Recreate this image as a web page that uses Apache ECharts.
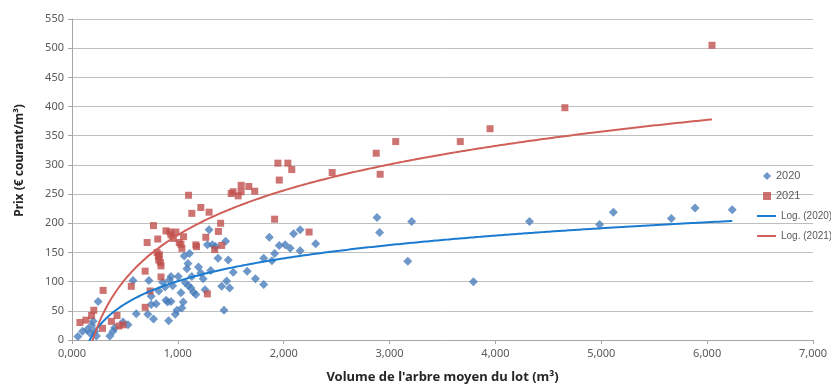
<!DOCTYPE html>
<html><head><meta charset="utf-8">
<script src="https://cdn.jsdelivr.net/npm/echarts@6/dist/echarts.min.js"></script>
<style>html,body{margin:0;padding:0;background:#fff}#c{width:831px;height:385px}</style>
</head><body><div id="c"></div>
<script>
const x2020 = [56,100,144,169,185,200,216,231,247,357,388,404,482,529,576,607,716,726,748,748,770,795,820,857,879,888,904,913,920,935,935,951,976,992,1004,1029,1038,1051,1060,1070,1085,1095,1101,1110,1123,1132,1148,1170,1195,1217,1239,1257,1279,1295,1311,1326,1357,1379,1414,1436,1451,1461,1476,1489,1523,1655,1733,1811,1811,1864,1889,1914,1958,2014,2061,2093,2155,2155,2302,2881,2906,3172,3209,3792,4322,4984,5114,5662,5886,6237];
const y2020 = [6,15,18,12,25,32,15,7,66,7,15,21,31,26,102,45,44,102,75,61,36,62,84,99,91,68,65,33,103,109,66,93,44,51,109,81,55,65,144,98,122,131,93,148,89,109,82,78,125,115,105,86,163,189,119,163,160,140,92,51,169,101,137,89,116,118,105,95,140,176,136,148,162,163,157,182,189,153,165,210,184,135,203,100,203,198,219,208,226,223];
const x2021 = [75,131,185,206,288,294,372,425,444,482,560,691,691,710,738,770,810,804,816,820,826,835,841,841,888,926,935,957,982,1013,1029,1038,1054,1101,1132,1170,1176,1217,1264,1279,1295,1348,1383,1404,1414,1504,1522,1570,1598,1598,1670,1726,1914,1945,1958,2039,2076,2240,2458,2874,2911,3058,3668,3949,4656,6046];
const y2021 = [30,34,42,51,20,85,32,42,24,26,92,56,118,167,84,196,173,150,143,137,146,133,127,108,187,185,180,174,185,167,164,157,177,248,217,163,160,227,176,79,219,155,186,200,162,251,254,247,265,254,263,255,207,303,274,303,292,185,287,320,284,340,340,362,398,505];
const xTickLabels = ['0,000','1,000','2,000','3,000','4,000','5,000','6,000','7,000'];
const seriesNames = ['2020','2021','Log. (2020)','Log. (2021)'];

function pairs(xs, ys){ return xs.map((x,i)=>[x, ys[i]]); }
// Excel-style logarithmic least-squares trendline y = a ln(x) + b over the data range
function logTrend(xs, ys){
  const n = xs.length; let sl=0, sy=0, sll=0, sly=0;
  for(let i=0;i<n;i++){ const l=Math.log(xs[i]); sl+=l; sy+=ys[i]; sll+=l*l; sly+=l*ys[i]; }
  const a = (n*sly - sl*sy)/(n*sll - sl*sl), b = (sy - a*sl)/n;
  const lo = Math.min(...xs), hi = Math.max(...xs), out = [];
  for(let k=0;k<=300;k++){ const x = lo + (hi-lo)*k/300; out.push([x, a*Math.log(x)+b]); }
  return out;
}
const font = 'Noto Sans';
const legendFont = "'Liberation Sans'";
const chart = echarts.init(document.getElementById('c'), null, {renderer:'canvas'});
chart.setOption({
  animation:false,
  textStyle:{fontFamily:font},
  grid:{left:72, right:18, top:19, bottom:45, outerBoundsMode:'none', containLabel:false},
  xAxis:{type:'value', min:0, max:7000, interval:1000,
    name:"Volume de l'arbre moyen du lot (m³)", nameLocation:'middle', nameGap:31,
    nameTextStyle:{fontWeight:'bold', fontSize:13, color:'#262626'},
    axisLine:{lineStyle:{color:'#a6a6a6'}}, axisTick:{show:true, length:4, lineStyle:{color:'#a6a6a6'}},
    axisLabel:{color:'#595959', fontSize:11, margin:8, formatter:v=>xTickLabels[Math.round(v/1000)]},
    splitLine:{show:false}},
  yAxis:{type:'value', min:0, max:550, interval:50,
    name:'Prix (€ courant/m³)', nameLocation:'middle', nameGap:46,
    nameTextStyle:{fontWeight:'bold', fontSize:12, color:'#262626', padding:[0,0,0,38]},
    axisLine:{show:true, lineStyle:{color:'#a6a6a6'}}, axisTick:{show:true, length:4, lineStyle:{color:'#a6a6a6'}},
    axisLabel:{color:'#595959', fontSize:11, margin:8},
    splitLine:{lineStyle:{color:'#bfbfbf', width:1}}},
  legend:[
    {orient:'vertical', left:763, top:169, padding:0, itemWidth:8, itemHeight:8, itemGap:6,
     textStyle:{color:'#595959', fontSize:11, lineHeight:14, fontFamily:legendFont},
     data:[{name:seriesNames[0], icon:'diamond'},{name:seriesNames[1], icon:'rect'}]},
    {orient:'vertical', left:757, top:209, padding:0, itemWidth:19, itemHeight:2, itemGap:6,
     textStyle:{color:'#595959', fontSize:10, lineHeight:14, fontFamily:legendFont},
     data:[{name:seriesNames[2], icon:'rect'},{name:seriesNames[3], icon:'rect'}]}
  ],
  series:[
    {name:seriesNames[0], type:'scatter', symbol:'diamond', symbolSize:9, itemStyle:{color:'#4a7ebb'}, data:pairs(x2020,y2020), z:3},
    {name:seriesNames[1], type:'scatter', symbol:'rect', symbolSize:7, itemStyle:{color:'#c0504d'}, data:pairs(x2021,y2021), z:3},
    {name:seriesNames[2], type:'line', symbol:'none', clip:true, lineStyle:{color:'#1a7bd0', width:2}, itemStyle:{color:'#1a7bd0'}, data:logTrend(x2020,y2020), z:4},
    {name:seriesNames[3], type:'line', symbol:'none', clip:true, lineStyle:{color:'#d0605a', width:2}, itemStyle:{color:'#d0605a'}, data:logTrend(x2021,y2021), z:4}
  ]
});
</script></body></html>
